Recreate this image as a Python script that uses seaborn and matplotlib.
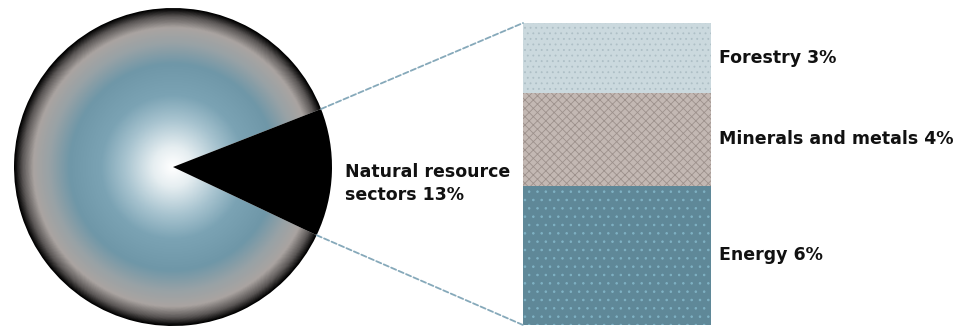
import numpy as np
import matplotlib
matplotlib.use("Agg")
import matplotlib.pyplot as plt
import seaborn as sns
from matplotlib.colors import LinearSegmentedColormap
from matplotlib.patches import ConnectionPatch

# data
pie_labels = ["Natural resource\nsectors 13%", "Other"]
pie_values = [13, 87]
sectors = ["Energy", "Minerals and metals", "Forestry"]
sector_values = [6, 4, 3]
sector_labels = ["Energy 6%", "Minerals and metals 4%", "Forestry 3%"]
sector_colors = ["#5f8898", "#c3b8b3", "#cbd9de"]
sector_hatch = ["..", "xxxx", "..."]
sector_hatch_colors = ["#7fb2c4", "#9d918c", "#aebfc6"]

sns.set_theme(style="white")
plt.rcParams["font.family"] = ["DejaVu Sans"]
plt.rcParams["hatch.linewidth"] = 0.6

W, H = 961, 326
fig = plt.figure(figsize=(W / 100, H / 100), dpi=100)
ax = fig.add_axes([0, 0, 1, 1])

cx, cy, r = 173, 159, 159
share = pie_values[0] / sum(pie_values) * 360
start = -share / 2 - 2
wedges, _ = ax.pie(pie_values, colors=["black", "none"], startangle=start,
                   center=(cx, cy), radius=r, frame=True,
                   wedgeprops=dict(linewidth=0))
ax.set_xlim(0, W)
ax.set_ylim(0, H)
ax.set_aspect("equal")
ax.axis("off")

# radial gradient for the rest of the pie
cmap = LinearSegmentedColormap.from_list("ring", [
    (0.0, "#ffffff"), (0.12, "#e6eef1"), (0.3, "#a7c3cf"),
    (0.45, "#7ba3b4"), (0.65, "#6f97a8"), (0.78, "#98a2a6"),
    (0.88, "#aaa4a1"), (0.95, "#5a5655"), (1.0, "#000000")])
yy, xx = np.mgrid[-1:1:400j, -1:1:400j]
rr = np.clip(np.sqrt(xx ** 2 + yy ** 2), 0, 1)
img = ax.imshow(rr, cmap=cmap, extent=(cx - r, cx + r, cy - r, cy + r),
                origin="lower", interpolation="bilinear", zorder=1)
img.set_clip_path(wedges[1])
wedges[0].set_zorder(2)

ax.text(345, H - 172, "Natural resource", fontsize=12.5, fontweight="bold",
        va="center", ha="left", color="#111111")
ax.text(345, H - 195, "sectors 13%", fontsize=12.5, fontweight="bold",
        va="center", ha="left", color="#111111")

# stacked bar
bx0, bx1, by0, by1 = 523, 711, 1, 303
bax = fig.add_axes([bx0 / W, by0 / H, (bx1 - bx0) / W, (by1 - by0) / H])
cum = np.cumsum(sector_values)
for i in range(len(sectors) - 1, -1, -1):
    sns.barplot(x=[0], y=[cum[i]], ax=bax, width=1, color=sector_colors[i],
                saturation=1)
    p = bax.patches[-1]
    p.set_hatch(sector_hatch[i])
    p.set_edgecolor(sector_hatch_colors[i])
    p.set_linewidth(0)
bax.set_xlim(-0.5, 0.5)
bax.set_ylim(0, cum[-1])
bax.axis("off")

for i, lab in enumerate(sector_labels):
    mid = cum[i] - sector_values[i] / 2
    bax.annotate(lab, xy=(0.5, mid), xytext=(6, 0), textcoords="offset points",
                 fontsize=12.5, fontweight="bold", va="center", ha="left",
                 color="#111111", annotation_clip=False)

# connector lines
for ang, ybar in [(start + share, cum[-1]), (start, 0)]:
    a = np.deg2rad(ang)
    p0 = (cx + r * np.cos(a), cy + r * np.sin(a))
    con = ConnectionPatch(xyA=p0, coordsA=ax.transData, xyB=(-0.5, ybar),
                          coordsB=bax.transData, color="#86a9ba", lw=1.3,
                          linestyle=(0, (3, 1.5)))
    fig.add_artist(con)

fig.savefig("out.png", dpi=100)
